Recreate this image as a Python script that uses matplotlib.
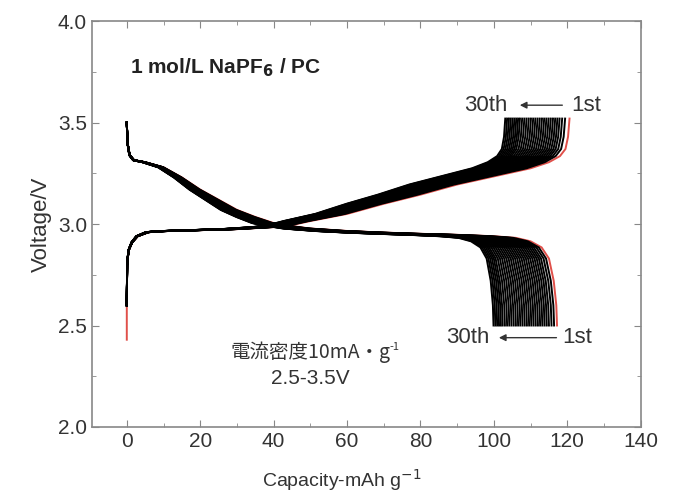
import matplotlib
matplotlib.use("Agg")
import numpy as np
from matplotlib import pyplot as plt

plt.rcParams['font.family'] = ['Liberation Sans', 'Noto Sans CJK JP', 'DejaVu Sans']
plt.rcParams['mathtext.fontset'] = 'dejavusans'

# discharge curve of the 1st cycle (capacity mAh/g, voltage V)
dis_cap = [0, 0.2, 0.8, 2, 5, 10, 15, 20, 25, 30, 35, 40, 45, 50, 60, 70, 80,
           90, 100, 106, 110, 113, 115, 116.3, 117, 117.2]
dis_volt = [3.50, 3.40, 3.34, 3.315, 3.305, 3.28, 3.23, 3.17, 3.12, 3.07, 3.035,
            3.005, 2.99, 2.978, 2.966, 2.958, 2.952, 2.947, 2.94, 2.932, 2.915,
            2.885, 2.83, 2.72, 2.60, 2.50]

# charge curve of the 1st cycle
chg_cap = [0, 0.1, 0.5, 1.5, 3, 6, 10, 20, 30, 40, 45, 50, 60, 70, 80, 90, 100,
           110, 115, 118, 119.5, 120.2, 120.6]
chg_volt = [2.60, 2.80, 2.87, 2.91, 2.94, 2.96, 2.965, 2.97, 2.975, 2.985, 2.995,
            3.015, 3.05, 3.10, 3.145, 3.195, 3.235, 3.275, 3.305, 3.335, 3.37,
            3.43, 3.52]
chg_start_1st = 2.43

# end capacities, cycles 1..30
dis_end = [117.2, 116.4, 115.7, 115.0, 114.4, 113.8, 113.2, 112.6, 112.0, 111.4,
           110.8, 110.2, 109.6, 109.0, 108.4, 107.8, 107.2, 106.6, 106.0, 105.4,
           104.8, 104.2, 103.6, 103.0, 102.4, 101.9, 101.4, 100.9, 100.4, 99.9]
chg_end = [120.6, 119.4, 118.6, 117.9, 117.3, 116.7, 116.1, 115.5, 114.9, 114.3,
           113.7, 113.1, 112.5, 111.9, 111.3, 110.7, 110.1, 109.5, 108.9, 108.3,
           107.7, 107.1, 106.6, 106.1, 105.6, 105.1, 104.6, 104.1, 103.6, 103.1]

txt = "#333333"
fig = plt.figure(figsize=(6.86, 4.93), dpi=100)
ax = fig.add_axes([0.134, 0.134, 0.800, 0.823])

dc = np.array(dis_cap)
cc = np.array(chg_cap)
for i in range(len(dis_end)):
    col = "#e0504a" if i == 0 else "black"
    z = 2 if i == 0 else 3
    ax.plot(dc * dis_end[i] / dis_end[0], dis_volt, color=col, lw=1.4, zorder=z)
    cv = list(chg_volt)
    x = list(cc * chg_end[i] / chg_end[0])
    if i == 0:
        x = [0] + x
        cv = [chg_start_1st] + cv
    ax.plot(x, cv, color=col, lw=1.4, zorder=z)

ax.set_xlim(-9.5, 140)
ax.set_ylim(2.0, 4.0)
ax.set_xticks(np.arange(0, 141, 20))
ax.set_xticks(np.arange(10, 140, 20), minor=True)
ax.set_yticks([2.0, 2.5, 3.0, 3.5, 4.0])
ax.set_yticks([2.25, 2.75, 3.25, 3.75], minor=True)
ax.tick_params(which="both", direction="in", top=True, right=True, colors="#888888",
               labelcolor=txt, labelsize=15)
ax.tick_params(which="major", length=5)
ax.tick_params(which="minor", length=3)
for s in ax.spines.values():
    s.set_color("#888888")
    s.set_linewidth(1.2)

ax.set_xlabel("Capacity-mAh g$^{-1}$", fontsize=14, color=txt)
ax.xaxis.set_label_coords(0.455, -0.1)
ax.set_ylabel("Voltage/V", fontsize=16, color=txt)

ax.text(1, 3.77, "1 mol/L NaPF$_\\mathbf{6}$ / PC", fontsize=15, fontweight="bold",
        color="#222222", va="center")
jp = ['Noto Sans CJK JP', 'DejaVu Sans']
ax.text(50, 2.37, "電流密度10mA・g", fontsize=14, color=txt, ha="center", va="center",
        family=jp)
ax.text(71.5, 2.395, "-1", fontsize=8, color=txt, ha="left", va="center", family=jp)
ax.text(50, 2.24, "2.5-3.5V", fontsize=15, color=txt, ha="center", va="center")

arrow = dict(arrowstyle="-|>", color=txt, lw=1, mutation_scale=10)
ax.annotate("", xy=(106.3, 3.586), xytext=(119.4, 3.586), arrowprops=arrow)
ax.text(103.6, 3.586, "30th", fontsize=16, color=txt, ha="right", va="center")
ax.text(121.0, 3.586, "1st", fontsize=16, color=txt, ha="left", va="center")
ax.annotate("", xy=(100.6, 2.44), xytext=(117.8, 2.44), arrowprops=arrow)
ax.text(98.7, 2.44, "30th", fontsize=16, color=txt, ha="right", va="center")
ax.text(118.6, 2.44, "1st", fontsize=16, color=txt, ha="left", va="center")

fig.savefig("out.png", dpi=100)
